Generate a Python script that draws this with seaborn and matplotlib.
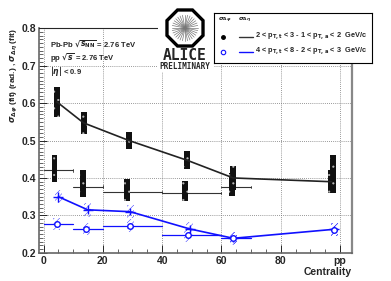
import matplotlib
matplotlib.use("Agg")
import matplotlib.pyplot as plt
import seaborn as sns
import pandas as pd
import numpy as np
from matplotlib.patches import Rectangle, RegularPolygon
from matplotlib.lines import Line2D

# data
# low pT bin (black): sigma_dphi joined by a line, sigma_deta with centrality bins
blk_dphi_x = [4.5, 13.5, 28.8, 48.5, 64, 97]
blk_dphi_y = [0.603, 0.547, 0.500, 0.447, 0.400, 0.390]
blk_dphi_sys = [0.040, 0.029, 0.024, 0.024, 0.032, 0.030]

blk_deta_x = [3.7, 13.3, 28.2, 47.8, 63.5, 97.5]
blk_deta_y = [0.425, 0.385, 0.368, 0.365, 0.383, 0.410]
blk_deta_sys = [0.037, 0.037, 0.030, 0.027, 0.030, 0.050]

# high pT bin (blue)
blu_dphi_x = [5, 14.9, 29.2, 49.3, 64, 98]
blu_dphi_y = [0.350, 0.315, 0.310, 0.264, 0.239, 0.263]
blu_dphi_stat = [0.013, 0.012, 0.010, 0.010, 0.010, 0.008]

blu_deta_x = [4.5, 14.4, 29.2, 48.7, 64, 98]
blu_deta_y = [0.277, 0.264, 0.273, 0.247, 0.240, 0.262]
blu_deta_stat = [0.008, 0.008, 0.007, 0.008, 0.008, 0.006]

bin_lo = [0, 10, 20, 40, 60]
bin_hi = [10, 20, 40, 60, 70]
blk_bar_y = [0.420, 0.377, 0.362, 0.360, 0.376]

xticks = [0, 20, 40, 60, 80, 100]
xticklabels = ["0", "20", "40", "60", "80", "pp"]

sns.set_style("ticks")
plt.rcParams["font.family"] = ["Liberation Sans", "DejaVu Sans"]
plt.rcParams["font.weight"] = "bold"
plt.rcParams["hatch.linewidth"] = 0.3

fig = plt.figure(figsize=(3.91, 2.81), dpi=100)
ax = fig.add_axes([0.1, 0.1, 0.8, 0.8])

blue = "#1010ff"

# systematic boxes
for x, y, s in zip(blk_deta_x, blk_deta_y, blk_deta_sys):
    ax.add_patch(Rectangle((x - 1.0, y - s), 2.0, 2 * s, facecolor="#111111",
                           edgecolor="#bbbbbb", lw=0, hatch="..", zorder=4))
for x, y, s in zip(blk_dphi_x, blk_dphi_y, blk_dphi_sys):
    ax.add_patch(Rectangle((x - 1.0, y - s), 2.0, 2 * s, facecolor="#111111",
                           edgecolor="#bbbbbb", lw=0, hatch="..", zorder=4))
for x, y in zip(blu_dphi_x, blu_dphi_y):
    ax.add_patch(Rectangle((x - 1.2, y - 0.018), 2.4, 0.036, fill=False,
                           edgecolor=blue, lw=0, hatch="//////", zorder=3))
for x, y in zip(blu_deta_x, blu_deta_y):
    ax.add_patch(Rectangle((x - 1.2, y - 0.017), 2.4, 0.034, fill=False,
                           edgecolor=blue, lw=0, hatch="//////", zorder=3))

# horizontal centrality-bin bars
blk_bins = pd.DataFrame({"lo": bin_lo, "hi": bin_hi, "y": blk_bar_y})
for _, r in blk_bins.iterrows():
    ax.plot([r.lo, r.hi], [r.y, r.y], color="#333333", lw=0.8, zorder=3)
    ax.plot([r.hi, r.hi], [r.y - 0.003, r.y + 0.003], color="#333333", lw=0.6, zorder=3)
for lo, hi, y in zip(bin_lo, bin_hi, blu_deta_y[:5]):
    ax.plot([lo, hi], [y, y], color=blue, lw=0.9, zorder=3)

# connected series
df_blk = pd.DataFrame({"x": blk_dphi_x, "y": blk_dphi_y})
df_blu = pd.DataFrame({"x": blu_dphi_x, "y": blu_dphi_y})
sns.lineplot(data=df_blk, x="x", y="y", color="#222222", lw=1.2, ax=ax, zorder=5)
sns.lineplot(data=df_blu, x="x", y="y", color=blue, lw=1.2, ax=ax, zorder=5)
ax.errorbar(blu_dphi_x, blu_dphi_y, yerr=blu_dphi_stat, fmt="_", ms=7,
            color=blue, lw=1.0, zorder=6)
ax.errorbar(blu_deta_x, blu_deta_y, yerr=blu_deta_stat, fmt="o", ms=4,
            mfc="white", mec=blue, mew=1.0, color=blue, lw=0.9, zorder=6)

ax.set_xlim(-1.5, 104)
ax.set_ylim(0.2, 0.8)
ax.set_xticks(xticks)
ax.set_xticklabels(xticklabels)
ax.set_xticks(np.arange(0, 104, 5), minor=True)
ax.set_yticks(np.arange(0.2, 0.81, 0.1))
ax.set_yticks(np.arange(0.2, 0.8, 0.01), minor=True)
ax.tick_params(axis="both", which="major", direction="in", length=6, width=0.7,
               labelsize=7.5, pad=2)
ax.tick_params(axis="both", which="minor", direction="in", length=3, width=0.5)
for lab in ax.get_xticklabels() + ax.get_yticklabels():
    lab.set_fontweight("bold")
ax.grid(True, which="major", ls=(0, (1, 1.5)), lw=0.6, color="#777777")
ax.set_axisbelow(True)
for side in ["left", "bottom"]:
    ax.spines[side].set_color("#666666")
    ax.spines[side].set_linewidth(1.2)
ax.spines["right"].set_color("#888888")
ax.spines["right"].set_linewidth(1.6)
ax.spines["top"].set_linewidth(0.8)

ax.set_ylabel(r"$\sigma_{\Delta\varphi}$ (fit) (rad.) , $\sigma_{\Delta\eta}$ (fit)",
              fontsize=6, fontweight="bold", loc="top", labelpad=2)
ax.yaxis.set_label_coords(-0.06, 1.0)
ax.set_xlabel("Centrality", fontsize=7.5, fontweight="bold", loc="right", labelpad=1)

ax.text(0.035, 0.955, r"Pb-Pb $\sqrt{s_{\rm NN}}$ = 2.76 TeV", transform=ax.transAxes,
        fontsize=5.5, fontweight="bold", va="top")
ax.text(0.035, 0.895, r"pp $\sqrt{s}$ = 2.76 TeV", transform=ax.transAxes,
        fontsize=5.5, fontweight="bold", va="top")
ax.text(0.035, 0.835, r"$|\eta|$ < 0.9", transform=ax.transAxes,
        fontsize=5.5, fontweight="bold", va="top")

# ALICE logo
W, H = 391.0, 281.0
lax = fig.add_axes([158 / W, 1 - 72 / H, 56 / W, 64 / H])
lax.set_xlim(0, 56)
lax.set_ylim(72, 8)
lax.set_facecolor("white")
lax.axis("off")
lax.add_patch(Rectangle((0, 8), 56, 64, facecolor="white", edgecolor="none"))
cx, cy = 27, 28
lax.add_patch(RegularPolygon((cx, cy), 8, radius=19.5, orientation=np.pi / 8,
                             facecolor="white", edgecolor="black", lw=2.4))
for a in np.linspace(0, np.pi, 16, endpoint=False):
    dx, dy = 13 * np.cos(a), 13 * np.sin(a)
    lax.plot([cx - dx, cx + dx], [cy - dy, cy + dy], color="#777777", lw=0.5)
lax.text(cx, 55, "ALICE", ha="center", va="center", fontsize=10.5,
         family="DejaVu Sans Mono", fontweight="bold")
lax.text(cx, 66.5, "PRELIMINARY", ha="center", va="center", fontsize=5.5,
         family="DejaVu Sans Mono", fontweight="bold")

# legend box
gax = fig.add_axes([214 / W, 1 - 62.5 / H, 158 / W, 49.5 / H])
gax.set_xlim(214, 372)
gax.set_ylim(62.5, 13)
gax.set_xticks([])
gax.set_yticks([])
gax.set_facecolor("white")
for sp in gax.spines.values():
    sp.set_linewidth(0.8)
    sp.set_color("black")
gax.text(218, 20, r"$\sigma_{\Delta\varphi}$", fontsize=4.5, va="center")
gax.text(238, 20, r"$\sigma_{\Delta\eta}$", fontsize=4.5, va="center")
gax.plot([223], [37], "o", color="black", ms=2.5)
gax.plot([223], [52], "o", mfc="white", mec=blue, mew=0.8, ms=3.2)
gax.add_line(Line2D([239, 253], [37, 37], color="#333333", lw=1.0))
gax.add_line(Line2D([239, 253], [52, 52], color=blue, lw=1.0))
gax.text(255, 36, r"2 < p$_{\rm T,t}$ < 3 - 1 < p$_{\rm T,a}$ < 2  GeV/c",
         fontsize=5.3, fontweight="bold", va="center")
gax.text(255, 51, r"4 < p$_{\rm T,t}$ < 8 - 2 < p$_{\rm T,a}$ < 3  GeV/c",
         fontsize=5.3, fontweight="bold", va="center")

fig.savefig("out.png", dpi=100)
